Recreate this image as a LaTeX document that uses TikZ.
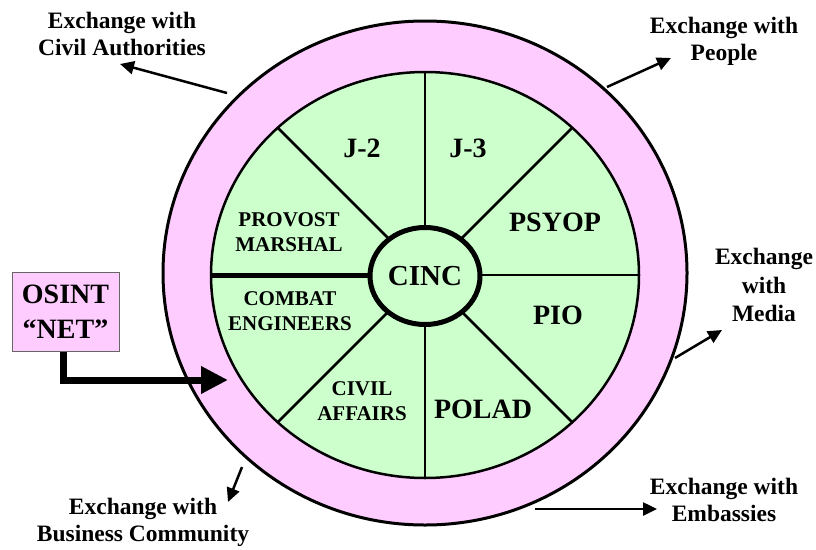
\documentclass[tikz,border=0pt]{standalone}
\usepackage{fontspec}
\setmainfont{Liberation Serif}
\usetikzlibrary{arrows.meta,shapes.geometric}
\definecolor{ringpink}{HTML}{FFCCFF}
\definecolor{segreen}{HTML}{CCFFCC}
\begin{document}
\begin{tikzpicture}[x=1pt,y=-1pt,
  lbl/.style={font=\fontsize{23.5}{27}\selectfont\bfseries, align=center, inner sep=0pt},
  big/.style={font=\fontsize{28}{32}\selectfont\bfseries, inner sep=0pt},
  small/.style={font=\fontsize{21}{25}\selectfont\bfseries, align=center, inner sep=0pt},
  xarrow/.style={line width=2.5pt, -{Triangle[length=14pt,width=13pt]}},
  spoke/.style={line width=2.5pt}]
\useasboundingbox (0,0) rectangle (816,549);
\coordinate (C) at (425,275);
% ring
\draw[line width=3pt, fill=ringpink] (425,273) ellipse [x radius=262pt, y radius=252pt];
\fill[segreen] (C) ellipse [x radius=214pt, y radius=203pt];
\begin{scope}
  \clip (C) ellipse [x radius=214pt, y radius=203pt];
  \foreach \dx/\dy in {0/-1,1/-1,1/0,1/1,0/1,-1/1,-1/-1}
    \draw[spoke] (C) -- ++(300*\dx,300*\dy);
  \draw[line width=5pt] (C) -- ++(-300,0);
\end{scope}
\draw[line width=2.5pt] (C) ellipse [x radius=214pt, y radius=203pt];
\node[ellipse, draw, line width=5pt, fill=segreen, minimum width=110pt, minimum height=97pt, inner sep=0pt,
      font=\fontsize{29}{32}\selectfont\bfseries] (cinc) at (425,276) {CINC};
% segment labels
\node[big] (j2) at (362,148) {J-2};
\node[big] (j3) at (468,148) {J-3};
\node[big] (psyop) at (555,222) {PSYOP};
\node[big] (pio) at (558,315) {PIO};
\node[big] (polad) at (483,409) {POLAD};
\node[small] (civaff) at (362,401) {CIVIL\\AFFAIRS};
\node[small] (combat) at (290,311) {COMBAT\\ENGINEERS};
\node[small] (provost) at (289,232) {PROVOST\\MARSHAL};
% exchange labels
\node[lbl] (civ) at (122,34) {Exchange with\\Civil Authorities};
\node[lbl] (people) at (724,41) {Exchange with\\People};
\node[lbl, font=\fontsize{23.5}{28.5}\selectfont\bfseries] (media) at (764,285) {Exchange\\with\\Media};
\node[lbl] (emb) at (724,500) {Exchange with\\Embassies};
\node[lbl] (bus) at (143,522) {Exchange with\\Business Community};
% arrow ends
\coordinate (civS) at (227,93);   \coordinate (civT) at (120,64);
\coordinate (peoS) at (607,87);   \coordinate (peoT) at (671,58);
\coordinate (medS) at (675,358);  \coordinate (medT) at (722,330);
\coordinate (embS) at (535,509);  \coordinate (embT) at (657,509);
\coordinate (busS) at (242,467);  \coordinate (busT) at (228,502);
\draw[xarrow] (civS) -- (civT);
\draw[xarrow] (peoS) -- (peoT);
\draw[xarrow] (medS) -- (medT);
\draw[xarrow] (embS) -- (embT);
\draw[xarrow] (busS) -- (busT);
% OSINT
\node[draw=black!60, line width=1pt, fill=ringpink, minimum width=107pt, minimum height=79pt, inner sep=0pt,
      align=center, font=\fontsize{28}{35}\selectfont\bfseries] (osint) at (65.5,311.5) {OSINT\\“NET”};
\coordinate (osintT) at (228,380);
\draw[line width=7pt, line join=miter, -{Triangle[length=27pt,width=26pt]}]
  ([xshift=-2.5pt]osint.south) |- (osintT);
\end{tikzpicture}
\end{document}
